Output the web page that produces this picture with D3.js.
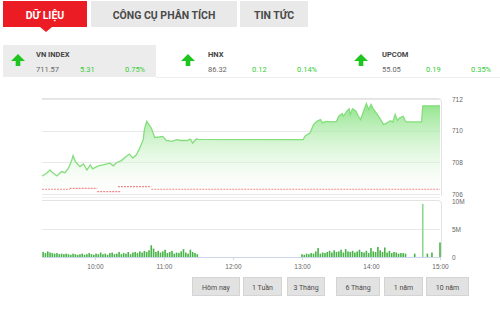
<!DOCTYPE html>
<html>
<head>
<meta charset="utf-8">
<script src="https://cdn.jsdelivr.net/npm/d3@7"></script>
<style>
  html, body { margin: 0; padding: 0; background: #fff; }
  svg { display: block; font-family: Roboto, "Liberation Sans", sans-serif; }
</style>
</head>
<body>
<svg id="chart" width="500" height="312"></svg>
<script>
// tabs and index summary
const tabs = ["DỮ LIỆU", "CÔNG CỤ PHÂN TÍCH", "TIN TỨC"];
const indexNames = ["VN INDEX", "HNX", "UPCOM"];
const indexValues = ["711.57", "86.32", "55.05"];
const indexChanges = ["5.31", "0.12", "0.19"];
const indexPercents = ["0.75%", "0.14%", "0.35%"];

// intraday VN-Index
const priceTimes = ["9:14","9:18","9:21","9:22","9:27","9:31","9:34","9:37","9:40","9:41",
  "9:43","9:47","9:50","9:53","9:56","9:58","10:03","10:07","10:13","10:16",
  "10:19","10:23","10:28","10:30","10:33","10:36","10:39","10:42","10:43","10:45",
  "10:48","10:49","10:52","10:56","10:59","11:02","11:07","11:11","11:15","11:20",
  "11:23","11:25","11:28","11:30","13:00","13:01","13:03","13:07","13:10","13:13",
  "13:16","13:18","13:21","13:26","13:30","13:32","13:35","13:36","13:39","13:41",
  "13:42","13:44","13:47","13:49","13:51","13:53","13:56","13:58","14:00","14:02",
  "14:05","14:08","14:11","14:14","14:17","14:19","14:21","14:23","14:25","14:28",
  "14:30","14:31","14:44","14:45","15:00"];
const priceValues = [707.14,707.31,707.52,707.42,707.14,707.42,707.35,707.63,708.16,708.43,
  708.05,707.73,707.90,707.52,707.84,707.59,707.78,707.84,707.95,707.78,
  707.99,708.11,708.41,708.52,708.27,708.48,708.90,709.43,710.06,710.59,
  710.27,710.17,709.57,709.60,709.64,709.38,709.32,709.43,709.38,709.38,
  709.47,709.22,709.47,709.45,709.43,709.43,709.68,709.85,710.38,710.59,
  710.70,710.49,710.59,710.55,710.59,710.91,711.08,710.91,711.23,711.38,
  711.02,711.38,711.23,710.91,710.70,711.12,711.71,711.33,711.65,711.38,
  711.08,710.74,710.38,710.49,710.63,710.55,711.02,710.65,710.81,710.91,
  710.59,710.55,710.55,711.57,711.57];

// reference (dashed red) line segments
const refStarts = ["9:14","9:38","10:02","10:20","10:49"];
const refEnds   = ["9:38","10:02","10:22","10:49","15:00"];
const refValues = [706.30,706.36,706.15,706.46,706.30];

// volume, millions, one bar every 2 minutes
const volMorningStart = "9:15";
const volMorning = [0.9,0.7,1.0,0.8,0.7,0.6,0.7,0.5,0.6,0.5,
  0.6,0.5,0.4,0.6,0.5,0.4,0.5,0.6,0.4,0.5,
  0.7,0.5,0.4,0.6,0.5,0.8,0.5,0.6,0.4,0.7,
  0.8,0.5,0.6,0.9,0.5,0.7,0.6,0.9,0.5,0.8,
  0.9,0.7,1.0,0.8,1.1,0.9,1.2,2.1,1.5,0.9,
  1.1,0.8,1.0,1.3,0.7,0.9,1.1,0.6,0.8,0.7,
  1.0,1.4,0.8,0.6,1.3,0.9,0.7,0.5];
const volAfternoonStart = "13:00";
const volAfternoon = [0.5,0.4,0.6,0.5,0.7,0.6,1.0,1.6,0.6,0.8,
  0.7,0.9,1.1,0.8,1.2,0.9,1.0,1.3,0.8,1.4,
  1.0,0.9,1.1,0.8,1.0,1.3,0.9,0.8,1.1,0.7,
  1.6,1.0,0.9,1.8,1.2,0.9,1.7,0.8,1.1,0.7,
  0.9,0.8,0.6,0.7,0.7,0.6];
const volCloseTimes = ["14:38","14:45","14:49","14:53","15:00"];
const volCloseValues = [0.6,9.5,0.6,0.8,2.6];

const priceTicks = [706, 708, 710, 712];
const volTicks = [0, 5, 10];
const volTickLabels = ["0", "5M", "10M"];
const hourTicks = ["10:00","11:00","12:00","13:00","14:00","15:00"];
const periods = ["Hôm nay", "1 Tuần", "3 Tháng", "6 Tháng", "1 năm", "10 năm"];

const parse = d3.timeParse("%H:%M");
const svg = d3.select("#chart");

drawTabs();
drawIndexRow();
drawChart();
drawButtons();

function drawTabs() {
    const xs = [3, 91, 240], ws = [84, 146, 68];
    tabs.forEach((t, i) => {
        svg.append("rect")
            .attr("x", xs[i]).attr("y", 1).attr("width", ws[i]).attr("height", 26)
            .attr("fill", i === 0 ? "#ec1c24" : "#e9e9e9");
        svg.append("text")
            .attr("x", xs[i] + ws[i] / 2).attr("y", 18.5)
            .attr("text-anchor", "middle")
            .attr("font-size", 10.5).attr("font-weight", "bold")
            .attr("fill", i === 0 ? "#fff" : "#4a4a4a")
            .text(t);
    });
    // pointer under active tab
    svg.append("path").attr("d", "M40,27 L46,32 L52,27 Z").attr("fill", "#ec1c24");
}

function drawIndexRow() {
    svg.append("rect").attr("x", 3).attr("y", 45).attr("width", 153).attr("height", 32).attr("fill", "#ececec");
    svg.append("line").attr("x1", 156).attr("x2", 500).attr("y1", 77.5).attr("y2", 77.5)
        .attr("stroke", "#eeeeee");
    const baseX = [36, 208, 382];
    const arrowX = [18, 188, 361];
    indexNames.forEach((name, i) => {
        const ax = arrowX[i], ay = 60;
        svg.append("path")
            .attr("d", `M${ax},${ay-6} L${ax+7},${ay+1} L${ax+2.3},${ay+1} L${ax+2.3},${ay+6} L${ax-2.3},${ay+6} L${ax-2.3},${ay+1} L${ax-7},${ay+1} Z`)
            .attr("fill", "#1ec51e");
        const g = svg.append("g").attr("font-size", 7.5);
        g.append("text").attr("x", baseX[i]).attr("y", 57).attr("font-weight", "bold").attr("fill", "#444").text(name);
        g.append("text").attr("x", baseX[i]).attr("y", 72).attr("fill", "#666").text(indexValues[i]);
        g.append("text").attr("x", baseX[i] + 44).attr("y", 72).attr("fill", "#33cc33").text(indexChanges[i]);
        g.append("text").attr("x", baseX[i] + 89).attr("y", 72).attr("fill", "#33cc33").text(indexPercents[i]);
    });
}

function drawChart() {
    const x = d3.scaleTime().domain([parse("9:14"), parse("15:00")]).range([42, 440]);
    const yP = d3.scaleLinear().domain([706, 712]).range([194, 99]);
    const yV = d3.scaleLinear().domain([0, 10]).range([257, 201]);

    const price = priceTimes.map((t, i) => ({ t: parse(t), v: priceValues[i] }));

    // panel frames
    svg.append("path").attr("d", "M42,98.5 L438,98.5 Q441.5,98.5 441.5,102 L441.5,196")
        .attr("fill", "none").attr("stroke", "#e3e3e3");
    svg.append("path").attr("d", "M42,200.5 L438,200.5 Q441.5,200.5 441.5,204 L441.5,257")
        .attr("fill", "none").attr("stroke", "#e3e3e3");

    // price grid
    svg.append("g").selectAll("line").data(priceTicks).join("line")
        .attr("x1", 42).attr("x2", 440)
        .attr("y1", d => Math.round(yP(d)) + 0.5).attr("y2", d => Math.round(yP(d)) + 0.5)
        .attr("stroke", "#e8e8e8");
    svg.append("line").attr("x1", 42).attr("x2", 440).attr("y1", 197.5).attr("y2", 197.5).attr("stroke", "#f0f0f0");

    const defs = svg.append("defs");
    const grad = defs.append("linearGradient").attr("id", "areaGrad")
        .attr("x1", 0).attr("y1", 0).attr("x2", 0).attr("y2", 1);
    grad.append("stop").attr("offset", "0%").attr("stop-color", "#8be385").attr("stop-opacity", 0.95);
    grad.append("stop").attr("offset", "100%").attr("stop-color", "#ffffff").attr("stop-opacity", 0.2);

    const area = d3.area().x(d => x(d.t)).y0(yP(706)).y1(d => yP(d.v));
    const line = d3.line().x(d => x(d.t)).y(d => yP(d.v));
    svg.append("path").datum(price).attr("d", area).attr("fill", "url(#areaGrad)");
    svg.append("path").datum(price).attr("d", line)
        .attr("fill", "none").attr("stroke", "#84de7c").attr("stroke-width", 1.3);

    // reference line
    svg.append("g").selectAll("line").data(refValues).join("line")
        .attr("x1", (d, i) => x(parse(refStarts[i]))).attr("x2", (d, i) => x(parse(refEnds[i])))
        .attr("y1", d => yP(d)).attr("y2", d => yP(d))
        .attr("stroke", "#f08a8a").attr("stroke-width", 1.2).attr("stroke-dasharray", "2,1");

    // price axis (right)
    const axP = svg.append("g").attr("transform", "translate(441,0)")
        .call(d3.axisRight(yP).tickValues(priceTicks).tickFormat(d3.format("d")).tickSize(0).tickPadding(11));
    axP.select(".domain").remove();
    axP.selectAll("text").attr("font-size", 6.5).attr("fill", "#666").attr("font-family", "Liberation Sans, sans-serif");

    // volume
    const vol = [];
    const m0 = parse(volMorningStart), a0 = parse(volAfternoonStart);
    volMorning.forEach((v, i) => vol.push({ t: d3.timeMinute.offset(m0, i * 2), v }));
    volAfternoon.forEach((v, i) => vol.push({ t: d3.timeMinute.offset(a0, i * 2), v }));
    volCloseTimes.forEach((t, i) => vol.push({ t: parse(t), v: volCloseValues[i] }));

    svg.append("line").attr("x1", 42).attr("x2", 440).attr("y1", Math.round(yV(5)) + 0.5).attr("y2", Math.round(yV(5)) + 0.5)
        .attr("stroke", "#e8e8e8");
    svg.append("g").selectAll("rect").data(vol).join("rect")
        .attr("x", d => x(d.t) - 0.8).attr("width", 1.6)
        .attr("y", d => yV(d.v)).attr("height", d => yV(0) - yV(d.v))
        .attr("fill", d => d.v > 5 ? "#8fd88f" : "#48b448");

    const axV = svg.append("g").attr("transform", "translate(441,0)")
        .call(d3.axisRight(yV).tickValues(volTicks).tickFormat((d, i) => volTickLabels[i]).tickSize(0).tickPadding(11));
    axV.select(".domain").remove();
    axV.selectAll("text").attr("font-size", 6.5).attr("fill", "#666").attr("font-family", "Liberation Sans, sans-serif");

    // time axis
    const axX = svg.append("g").attr("transform", `translate(0,${yV(0)})`)
        .call(d3.axisBottom(x).tickValues(hourTicks.map(parse)).tickFormat(d3.timeFormat("%H:%M")).tickSize(3).tickPadding(4));
    axX.select(".domain").attr("d", "M42,0.5H440").attr("stroke", "#ccd6eb");
    axX.selectAll(".tick line").attr("stroke", "#ccd6eb");
    axX.selectAll("text").attr("font-size", 6.5).attr("fill", "#666").attr("font-family", "Liberation Sans, sans-serif");
}

function drawButtons() {
    const xs = [192, 243, 287, 336, 384, 426];
    const ws = [47, 38, 37, 43, 38, 42];
    periods.forEach((p, i) => {
        svg.append("rect").attr("x", xs[i] + 0.5).attr("y", 277.5).attr("width", ws[i]).attr("height", 18)
            .attr("fill", "#e2e2e2").attr("stroke", "#d4d4d4");
        svg.append("text").attr("x", xs[i] + ws[i] / 2 + 0.5).attr("y", 289.5)
            .attr("text-anchor", "middle").attr("font-size", 7).attr("fill", "#4a4a4a").text(p);
    });
}
</script>
</body>
</html>
